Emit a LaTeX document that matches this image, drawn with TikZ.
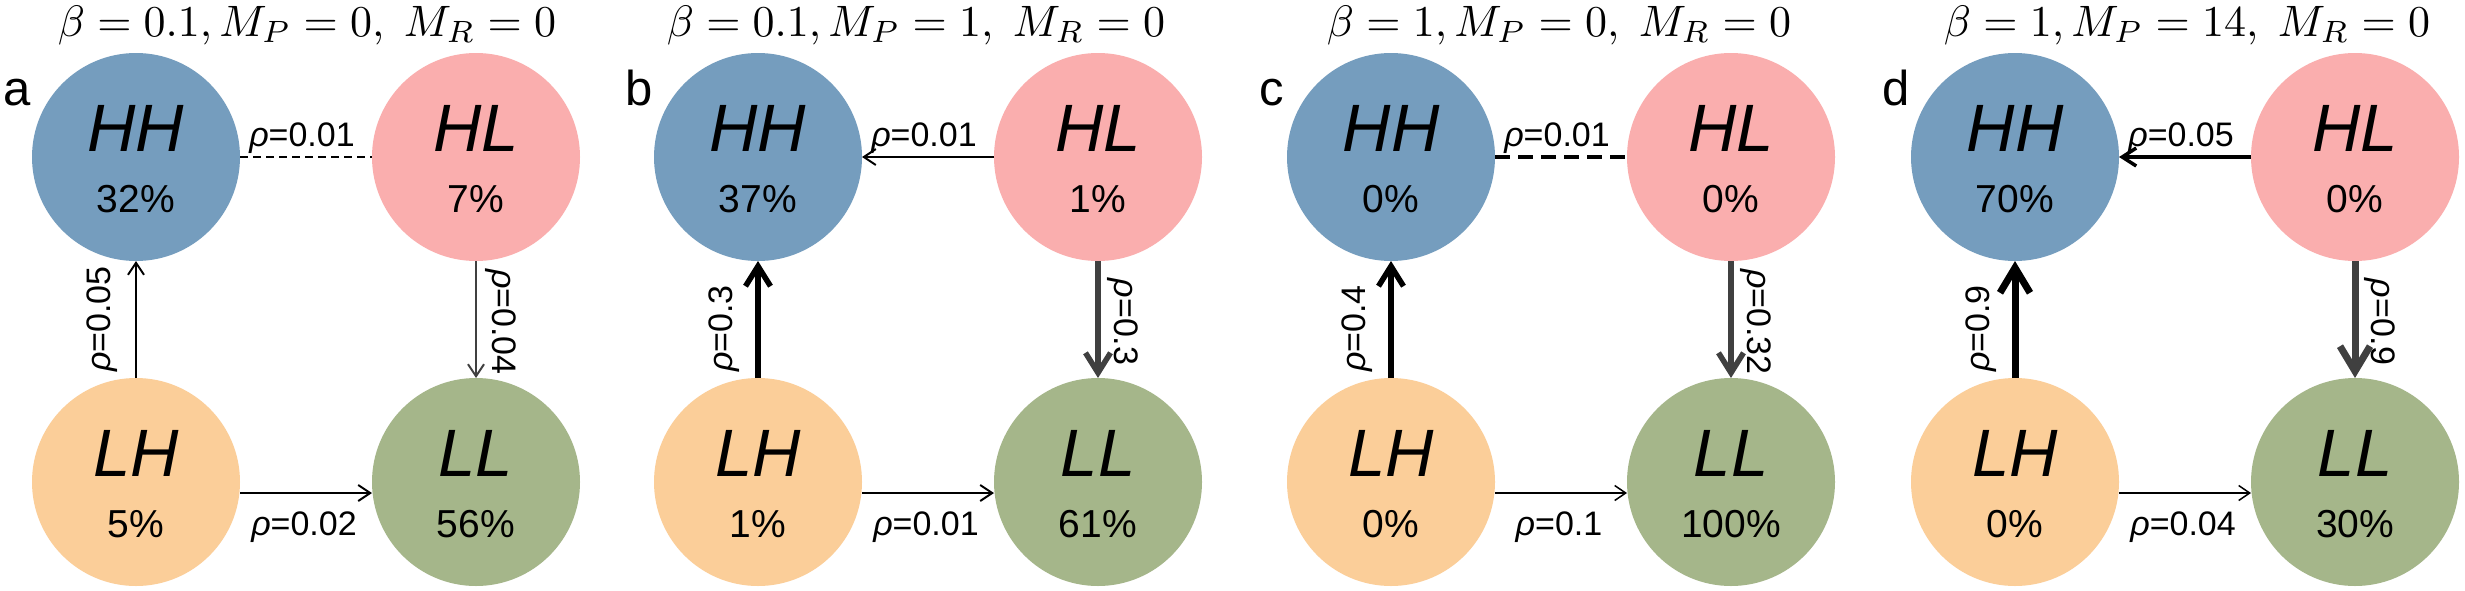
\documentclass[tikz,border=0pt]{standalone}
\usepackage{graphicx}
\usepackage{fontspec}
\setmainfont{Liberation Sans}
\usetikzlibrary{arrows.meta}
\definecolor{hhc}{RGB}{117,157,190}
\definecolor{hlc}{RGB}{250,174,174}
\definecolor{lhc}{RGB}{251,206,153}
\definecolor{llc}{RGB}{165,182,138}
\definecolor{greyarrow}{RGB}{64,64,64}
\tikzset{
  state/.style={circle, minimum size=208pt, inner sep=0pt, outer sep=0pt, draw=none},
  bigtxt/.style={font=\fontsize{67}{67}\selectfont\itshape, inner sep=0pt},
  pcttxt/.style={font=\fontsize{39}{39}\selectfont, inner sep=0pt},
  edgetxt/.style={font=\fontsize{34}{34}\selectfont, inner sep=0pt},
  lefttxt/.style={edgetxt, rotate=90, anchor=base west},
  righttxt/.style={edgetxt, rotate=-90, anchor=base},
  toptxt/.style={edgetxt, anchor=base},
  paneltxt/.style={font=\fontsize{49}{49}\selectfont, inner sep=0pt, anchor=base},
  titletxt/.style={inner sep=0pt, anchor=base},
  thinarrow/.style={line width=2pt, -{Straight Barb[length=12pt,width=16pt]}},
  hairarrow/.style={line width=1.5pt, -{Straight Barb[length=11pt,width=15pt]}},
  medarrow/.style={line width=3.5pt, -{Straight Barb[length=14pt,width=18pt]}},
  thickarrow/.style={line width=5.5pt, -{Straight Barb[length=20pt,width=25pt]}},
  heavyarrow/.style={line width=7pt, -{Straight Barb[length=25pt,width=30pt]}},
  greyline/.style={draw=greyarrow},
  thindash/.style={line width=1.5pt, dash pattern=on 8pt off 5pt},
  thickdash/.style={line width=4pt, dash pattern=on 15pt off 8pt},
}
\newcommand{\fourstates}[5]{%
  \node[state, fill=hhc] (HH#1) at (0,157) {};
  \node[bigtxt] (HHt#1) at (0,128) {HH};
  \node[pcttxt] (HHp#1) at (0,199) {#2};
  \node[state, fill=hlc] (HL#1) at (340,157) {};
  \node[bigtxt] (HLt#1) at (340,128) {HL};
  \node[pcttxt] (HLp#1) at (340,199) {#3};
  \node[state, fill=lhc] (LH#1) at (0,482) {};
  \node[bigtxt] (LHt#1) at (0,453) {LH};
  \node[pcttxt] (LHp#1) at (0,524) {#4};
  \node[state, fill=llc] (LL#1) at (340,482) {};
  \node[bigtxt] (LLt#1) at (340,453) {LL};
  \node[pcttxt] (LLp#1) at (340,524) {#5};
}
\newcommand{\rh}{\textit{ρ}}
\newcommand{\ttl}[1]{\scalebox{4.4}{$#1$}}
\begin{document}
\begin{tikzpicture}[x=1pt,y=-1pt]
\useasboundingbox (0,0) rectangle (2465,590);
\fill[white] (0,0) rectangle (2465,590);

% ---------- panel a ----------
\begin{scope}[xshift=136pt]
  \node[titletxt] (Ta) at (171,36) {\ttl{\beta = 0.1, M_P = 0,\; M_R = 0}};
  \node[paneltxt] (La) at (-119,105) {a};
  \fourstates{a}{32\%}{7\%}{5\%}{56\%}
  \draw[thindash] (HHa) -- (HLa);
  \node[toptxt] (ea1) at (166,146) {\rh=0.01};
  \draw[thinarrow] (LHa) -- (HHa);
  \node[lefttxt] (ea2) at (-26,372) {\rh=0.05};
  \draw[thinarrow, greyline] (HLa) -- (LLa);
  \node[righttxt] (ea3) at (356,322) {\rh=0.04};
  \draw[thinarrow] ([yshift=-11pt]LHa.east) -- ([yshift=-11pt]LLa.west);
  \node[toptxt] (ea4) at (168,535) {\rh=0.02};
\end{scope}

% ---------- panel b ----------
\begin{scope}[xshift=758pt]
  \node[titletxt] (Tb) at (158,36) {\ttl{\beta = 0.1, M_P = 1,\; M_R = 0}};
  \node[paneltxt] (Lb) at (-119,105) {b};
  \fourstates{b}{37\%}{1\%}{1\%}{61\%}
  \draw[thinarrow] (HLb) -- (HHb);
  \node[toptxt] (eb1) at (166,146) {\rh=0.01};
  \draw[thickarrow] (LHb) -- (HHb);
  \node[lefttxt] (eb2) at (-26,372) {\rh=0.3};
  \draw[thickarrow, greyline] (HLb) -- (LLb);
  \node[righttxt] (eb3) at (356,322) {\rh=0.3};
  \draw[thinarrow] ([yshift=-11pt]LHb.east) -- ([yshift=-11pt]LLb.west);
  \node[toptxt] (eb4) at (168,535) {\rh=0.01};
\end{scope}

% ---------- panel c ----------
\begin{scope}[xshift=1391pt]
  \node[titletxt] (Tc) at (168,36) {\ttl{\beta = 1, M_P = 0,\; M_R = 0}};
  \node[paneltxt] (Lc) at (-119,105) {c};
  \fourstates{c}{0\%}{0\%}{0\%}{100\%}
  \draw[thickdash] (HHc) -- (HLc);
  \node[toptxt] (ec1) at (166,146) {\rh=0.01};
  \draw[thickarrow] (LHc) -- (HHc);
  \node[lefttxt] (ec2) at (-26,372) {\rh=0.4};
  \draw[thickarrow, greyline] (HLc) -- (LLc);
  \node[righttxt] (ec3) at (356,322) {\rh=0.32};
  \draw[hairarrow] ([yshift=-11pt]LHc.east) -- ([yshift=-11pt]LLc.west);
  \node[toptxt] (ec4) at (168,535) {\rh=0.1};
\end{scope}

% ---------- panel d ----------
\begin{scope}[xshift=2015pt]
  \node[titletxt] (Td) at (172,36) {\ttl{\beta = 1, M_P = 14,\; M_R = 0}};
  \node[paneltxt] (Ld) at (-119,105) {d};
  \fourstates{d}{70\%}{0\%}{0\%}{30\%}
  \draw[medarrow] (HLd) -- (HHd);
  \node[toptxt] (ed1) at (166,146) {\rh=0.05};
  \draw[heavyarrow] (LHd) -- (HHd);
  \node[lefttxt] (ed2) at (-26,372) {\rh=0.9};
  \draw[heavyarrow, greyline] (HLd) -- (LLd);
  \node[righttxt] (ed3) at (356,322) {\rh=0.9};
  \draw[hairarrow] ([yshift=-11pt]LHd.east) -- ([yshift=-11pt]LLd.west);
  \node[toptxt] (ed4) at (168,535) {\rh=0.04};
\end{scope}
\end{tikzpicture}
\end{document}
